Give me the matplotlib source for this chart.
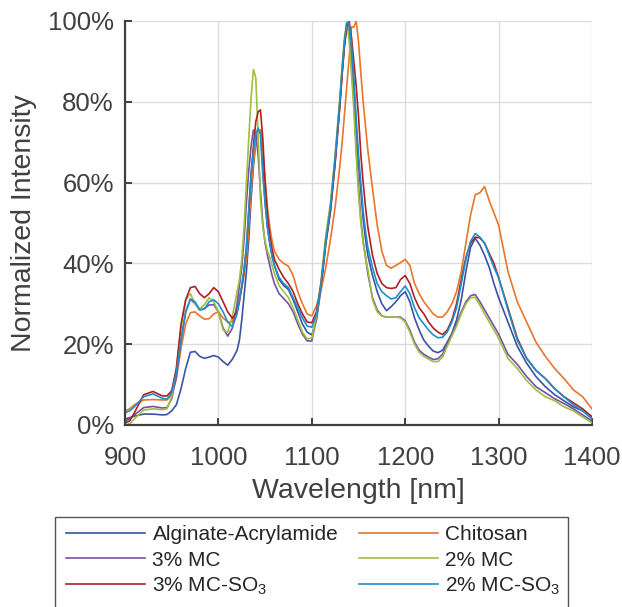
import matplotlib
matplotlib.use('Agg')
import matplotlib.pyplot as plt
from matplotlib.patches import Rectangle
from matplotlib.ticker import PercentFormatter

plt.rcParams['font.family'] = ['Liberation Sans', 'DejaVu Sans']
plt.rcParams['mathtext.fontset'] = 'custom'
plt.rcParams['mathtext.rm'] = 'Liberation Sans'
plt.rcParams['mathtext.it'] = 'Liberation Sans'

wavelength = [900, 905, 910, 920, 930, 940, 945, 950, 955, 960, 965, 970, 975, 980, 985,
              990, 995, 1000, 1005, 1010, 1015,
              1020, 1022.5, 1025, 1027.5, 1030, 1032.5, 1035, 1037.5, 1040, 1042.5,
              1045, 1047.5, 1050, 1052.5, 1055, 1057.5, 1060,
              1065, 1070, 1075, 1080, 1085, 1090, 1095, 1100, 1105, 1110, 1115,
              1120, 1122.5, 1125, 1127.5, 1130, 1132.5, 1135, 1137.5, 1140, 1142.5,
              1145, 1147.5, 1150, 1152.5, 1155, 1157.5, 1160,
              1165, 1170, 1175, 1180, 1185, 1190, 1195, 1200, 1205, 1210, 1215, 1220,
              1225, 1230, 1235, 1240, 1245, 1250, 1255, 1260, 1265, 1270, 1275, 1280,
              1285, 1290, 1295, 1300,
              1310, 1320, 1330, 1340, 1350, 1360, 1370, 1380, 1390, 1400]

alginate = [1.5, 1.8, 2.2, 2.7, 2.7, 2.5, 2.6, 3.5, 5, 9, 14, 18, 18.2, 17, 16.5,
            16.8, 17.2, 16.8, 15.7, 14.8, 16.3,
            18.5, 21, 26, 32, 38, 46, 56, 64, 70, 72.5, 73, 64, 55, 49, 45, 42, 39.5,
            36, 34.5, 33.5, 31, 28, 25, 23, 22.3, 26, 34, 45,
            53, 59, 65, 72, 79, 87, 94, 99, 99, 93, 84, 74, 65, 58, 51, 46, 42,
            37, 33, 30, 28.3, 29.3, 30.5, 32, 33, 30.5, 26.5, 23.5, 21,
            19.5, 18.3, 17.9, 18.5, 20.5, 22.7, 26, 31, 38, 44, 46.2, 44.5,
            42, 39, 35, 31.5,
            25.5, 19.5, 15.3, 12, 9.5, 7.5, 6, 4.5, 3.5, 2]

chitosan = [3.5, 4, 5, 6.2, 6.3, 6.2, 6.2, 7.5, 11.5, 19, 25, 27.8, 28, 27, 26.2,
            26.3, 27.5, 28, 26.5, 25.5, 25.5,
            29, 31.5, 34, 37, 41, 49, 58, 65, 70, 72.5, 73, 68, 61, 54, 49, 45.5, 43,
            41, 40, 39.3, 37, 33, 30, 27.5, 27, 29.5, 33.5, 39,
            46, 50, 54, 59, 64, 70, 77, 84, 91, 98.5, 98.5, 100, 95, 87, 80, 74, 68,
            58.5, 49.5, 43, 39.5, 38.8, 39.5, 40.2, 41, 39.5, 35, 32.5, 30.5,
            29, 27.5, 26.7, 26.7, 28, 30, 33, 38, 45, 52, 57, 57.5,
            59, 55.5, 52.5, 49.5,
            38, 30.5, 25.5, 20.5, 17, 14, 11.5, 8.7, 7, 4]

mc3 = [1, 1.5, 2.5, 4.3, 4.6, 4.2, 4.3, 6.5, 12, 21, 28, 31.2, 30, 28.5, 28.8,
       29.7, 29.8, 28, 24, 22, 24,
       30, 34.5, 39, 46, 55, 63, 69, 73, 72, 67, 58, 50, 45, 42, 39.5, 37, 35,
       32.5, 31.3, 30, 28, 25, 22.5, 20.8, 20.8, 26.5, 35, 46,
       54, 60, 66, 73, 80, 88, 95, 99.5, 97, 89, 80, 69, 59, 51, 45.5, 41.5, 37.5,
       31.5, 28.5, 27, 26.7, 26.7, 26.7, 26.7, 25.8, 23.5, 20.5, 18.5, 17.5,
       16.8, 16.2, 16.4, 17.5, 20, 22.5, 25, 28, 30.5, 32, 32.3, 30.5,
       28.5, 26.5, 24.5, 22.5,
       17.5, 15, 12, 9.5, 8, 6.5, 5.3, 4, 2.5, 1]

mc2 = [0, 0.3, 1.5, 3.7, 4, 3.8, 4, 7, 14, 24, 31, 32.5, 30, 28.7, 29.8,
       31.5, 30.5, 28, 23.5, 23, 27,
       33, 36, 41, 49, 60, 71, 81, 88, 86, 72, 56, 49, 45.5, 43, 41.5, 39.5, 37.5,
       34.5, 33, 31.5, 29, 26, 23, 21.3, 21.5, 27, 36, 47,
       55, 61, 67, 74, 81, 89, 96, 100, 95, 87, 78, 67, 57, 50, 45, 41.5, 38.5,
       31, 28, 27, 26.7, 26.7, 26.7, 26.5, 25.5, 23, 20, 18, 17,
       16.3, 15.7, 15.7, 16.8, 19.5, 22, 24.5, 27.5, 30, 31.5, 31.6, 29.7,
       27.5, 25.5, 23.5, 21.5,
       16.5, 14, 11, 8.7, 7, 6, 4.5, 3.5, 2, 0.5]

mc3_so3 = [0.5, 1, 3, 7.5, 8.3, 7.2, 7.2, 8.5, 14, 25, 31, 34, 34.3, 32.5, 31.5,
           32.5, 34, 33, 30.5, 28, 26.4,
           28, 30.5, 34, 38.5, 44, 53, 62, 69, 75, 77.5, 78, 71, 60, 52, 47, 43.5, 41,
           38.5, 36.5, 35, 33, 30, 27.5, 25.5, 25.3, 28, 35, 45,
           53, 59, 65, 72, 79, 87, 94, 98.5, 100, 96, 90, 84, 76.5, 67, 60, 54, 49,
           42, 37.5, 35, 34, 33.8, 34, 36, 37, 35, 31.5, 29, 27.5,
           25.5, 24, 23, 22.4, 23.5, 26, 30, 36, 41.5, 45, 46.5, 46.3,
           45, 42.5, 40, 36.5,
           29, 21.5, 16.5, 13.5, 11.5, 9, 7, 5.5, 4, 2]

mc2_so3 = [3, 3.5, 4.5, 7, 7.7, 6.6, 6.4, 8, 13, 21, 28, 31.2, 30.5, 28.5, 28.7,
           30.5, 31, 30, 28, 25.5, 24.3,
           27.5, 31, 34.5, 38.5, 44, 53, 62, 68, 72, 73.5, 72, 62, 55, 49, 45, 41.5, 39.5,
           36.5, 35, 34, 31.5, 29, 26.5, 24.5, 24.2, 27.5, 35, 45.5,
           54, 60, 66, 73, 80, 88, 95, 99.5, 99.5, 94, 86, 76, 67, 60, 53, 48, 44,
           39, 35, 33, 32, 31.2, 31.5, 33, 34.4, 32.5, 29, 26.5, 25,
           23.5, 22.3, 21.6, 21.7, 23, 25.5, 29, 35, 41, 45.5, 47.4, 46.5,
           45, 42, 39, 36.5,
           28.5, 21, 16.5, 13.5, 11.5, 9, 7, 5, 3.5, 1.5]

series = [
    ('Alginate-Acrylamide', alginate, '#3a53a4'),
    ('Chitosan', chitosan, '#e8762b'),
    ('3% MC', mc3, '#7b4dab'),
    ('2% MC', mc2, '#9cc13c'),
    ('3% MC-SO$_3$', mc3_so3, '#b01f24'),
    ('2% MC-SO$_3$', mc2_so3, '#1e90c8'),
]

W, H = 622, 607
fig = plt.figure(figsize=(W / 100, H / 100), dpi=100)
ax = fig.add_axes([125 / W, 1 - 425 / H, 467 / W, 404 / H])

lines = []
for name, vals, col in series:
    ln, = ax.plot(wavelength, vals, color=col, linewidth=1.2, label=name)
    lines.append(ln)

ax.set_xlim(900, 1400)
ax.set_ylim(0, 100)
ax.set_xticks(range(900, 1401, 100))
ax.set_yticks(range(0, 101, 20))
ax.yaxis.set_major_formatter(PercentFormatter(decimals=0))
ax.grid(True, color='#dcdcdc', linewidth=1)
ax.set_axisbelow(True)

for s in ['top', 'right']:
    ax.spines[s].set_visible(False)
for s in ['left', 'bottom']:
    ax.spines[s].set_color('#404040')
    ax.spines[s].set_linewidth(1.6)
ax.tick_params(direction='in', length=5, width=1.4, color='#404040',
               labelcolor='#404040', labelsize=18.5)
ax.tick_params(axis='y', pad=8)
ax.tick_params(axis='x', pad=15)

ax.set_xlabel('Wavelength [nm]', fontsize=20.5, color='#404040', labelpad=6)
ax.set_ylabel('Normalized Intensity', fontsize=20.5, color='#404040', labelpad=8)

# legend filled row by row like the original
order = [0, 2, 4, 1, 3, 5]
leg = fig.legend([lines[i] for i in order], [series[i][0] for i in order],
                 loc='upper left', bbox_to_anchor=(66 / W, 1 - 525.5 / H),
                 ncol=2, fontsize=15, handlelength=3.8, handletextpad=0.35,
                 columnspacing=1.0, labelspacing=0.29, borderpad=0,
                 borderaxespad=0, frameon=False)
for t in leg.get_texts():
    t.set_color('#262626')

fig.add_artist(Rectangle((55 / W, -0.02), (568 - 55) / W, 1 - 517 / H + 0.02,
                         transform=fig.transFigure, fill=False,
                         edgecolor='#555555', linewidth=1.0))

fig.savefig('out.png', dpi=100)
plt.close(fig)
